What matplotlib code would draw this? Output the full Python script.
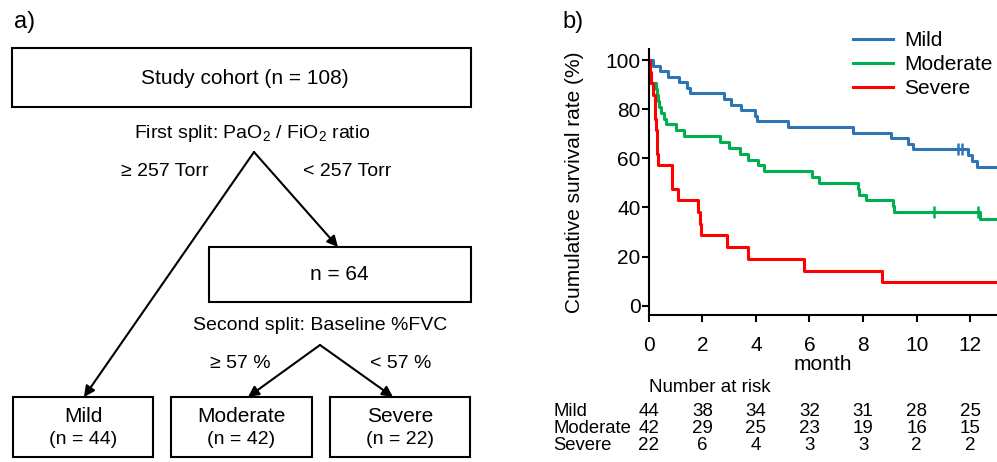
import numpy as np
import matplotlib.pyplot as plt
from matplotlib.patches import Rectangle
from matplotlib.transforms import blended_transform_factory

plt.rcParams['font.family'] = ['Liberation Sans', 'DejaVu Sans']

# Kaplan-Meier curves (month, survival %)
mild_t = [0, 0.17, 0.42, 0.73, 1.14, 1.41, 1.53, 2.81, 3.06, 3.43, 3.95, 4.05,
          5.19, 7.63, 9.03, 9.69, 9.85, 11.93, 12.05, 12.24, 13.0]
mild_s = [100, 97.7, 95.5, 93.2, 90.9, 88.6, 86.4, 84.1, 81.8, 79.5, 77.3, 75.0,
          72.7, 70.5, 68.2, 65.9, 63.6, 61.3, 58.8, 56.3, 56.3]
mild_cens_t = [11.55, 11.7]
mild_cens_s = [63.6, 63.6]

mod_t = [0, 0.01, 0.02, 0.03, 0.05, 0.26, 0.3, 0.34, 0.38, 0.45, 0.57, 0.65,
         1.0, 1.32, 2.66, 3.01, 3.41, 3.72, 4.09, 4.31, 6.08, 6.37, 7.8, 7.84,
         8.11, 9.12, 9.15, 12.36, 13.0]
mod_s = [100, 97.6, 95.2, 92.9, 90.5, 88.1, 85.7, 83.3, 81.0, 78.6, 76.2, 73.8,
         71.4, 69.0, 66.7, 64.3, 61.9, 59.5, 57.1, 54.8, 52.4, 50.0, 47.6, 45.2,
         42.9, 40.5, 38.1, 35.3, 35.3]
mod_cens_t = [10.65, 12.3]
mod_cens_s = [38.1, 38.1]

sev_t = [0, 0.05, 0.1, 0.16, 0.22, 0.25, 0.28, 0.3, 0.31, 0.33, 0.85, 0.88,
         1.08, 1.85, 1.9, 1.94, 2.93, 3.72, 5.8, 8.69, 13.0]
sev_s = [100, 95.2, 90.5, 85.7, 81.0, 76.2, 71.4, 66.7, 61.9, 57.1, 52.4, 47.6,
         42.9, 38.1, 33.3, 28.6, 23.8, 19.0, 14.3, 9.5, 9.5]

groups = ['Mild', 'Moderate', 'Severe']
colors = ['#2E75B6', '#00B050', '#FF0000']
risk_months = [0, 2, 4, 6, 8, 10, 12]
risk_mild = [44, 38, 34, 32, 31, 28, 25]
risk_mod = [42, 29, 25, 23, 19, 16, 15]
risk_sev = [22, 6, 4, 3, 3, 2, 2]

fig = plt.figure(figsize=(9.97, 4.62), dpi=100)

# pixel-coordinate canvas for the flowchart and free text
ax0 = fig.add_axes([0, 0, 1, 1])
ax0.set_xlim(0, 997)
ax0.set_ylim(462, 0)
ax0.axis('off')

def box(x0, y0, x1, y1):
    ax0.add_patch(Rectangle((x0, y0), x1 - x0, y1 - y0, fill=False, lw=1.5, ec='black'))

def arrow(x0, y0, x1, y1):
    ax0.annotate('', xy=(x1, y1), xytext=(x0, y0),
                 arrowprops=dict(arrowstyle='-|>', lw=1.5, color='black',
                                 mutation_scale=16, shrinkA=0, shrinkB=0))

ax0.text(14, 22, 'a)', fontsize=17, ha='left', va='center')
ax0.text(562, 22, 'b)', fontsize=17, ha='left', va='center')

box(12, 48, 471, 107)
ax0.text(245, 78, 'Study cohort (n = 108)', fontsize=15, ha='center', va='center')
ax0.text(252, 133, r'First split: PaO$_\mathregular{2}$ / FiO$_\mathregular{2}$ ratio',
         fontsize=14, ha='center', va='center')
ax0.text(165, 172, '≥ 257 Torr', fontsize=14, ha='center', va='center')
ax0.text(347, 172, '< 257 Torr', fontsize=14, ha='center', va='center')
arrow(254, 152, 84, 397)
arrow(254, 152, 338, 247)

box(209, 247, 471, 302)
ax0.text(339, 275, 'n = 64', fontsize=15, ha='center', va='center')
ax0.text(320, 326, 'Second split: Baseline %FVC', fontsize=14, ha='center', va='center')
ax0.text(240, 364, '≥ 57 %', fontsize=14, ha='center', va='center')
ax0.text(401, 364, '< 57 %', fontsize=14, ha='center', va='center')
arrow(320, 345, 248, 397)
arrow(320, 345, 393, 397)

leaf_x = [(13, 153), (171, 312), (330, 470)]
leaf_n = [44, 42, 22]
for (xa, xb), name, n in zip(leaf_x, groups, leaf_n):
    box(xa, 397, xb, 457)
    ax0.text((xa + xb) / 2, 417, name, fontsize=15, ha='center', va='center')
    ax0.text((xa + xb) / 2, 440, f'(n = {n})', fontsize=14, ha='center', va='center')

# survival curves
ax1 = fig.add_axes([0.6507, 0.3188, 0.3493, 0.5752])
ax1.step(mild_t, mild_s, where='post', color=colors[0], lw=2.2, label=groups[0])
ax1.step(mod_t, mod_s, where='post', color=colors[1], lw=2.2, label=groups[1])
ax1.step(sev_t, sev_s, where='post', color=colors[2], lw=2.2, label=groups[2])
ax1.plot(mild_cens_t, mild_cens_s, ls='none', marker='|', ms=8, mew=1.8, color=colors[0])
ax1.plot(mod_cens_t, mod_cens_s, ls='none', marker='|', ms=8, mew=1.8, color=colors[1])

ax1.set_xlim(0, 13)
ax1.set_ylim(-3.66, 104.5)
ax1.set_xticks(risk_months)
ax1.set_yticks([0, 20, 40, 60, 80, 100])
ax1.spines['top'].set_visible(False)
ax1.spines['right'].set_visible(False)
ax1.spines['left'].set_linewidth(1.5)
ax1.spines['bottom'].set_linewidth(1.5)
ax1.tick_params(axis='both', direction='out', length=5, width=1.5, labelsize=15)
ax1.tick_params(axis='x', pad=10)
ax1.tick_params(axis='y', pad=1)
ax1.set_xlabel('month', fontsize=15, labelpad=0.5)
ax1.set_ylabel('Cumulative survival rate (%)', fontsize=15, labelpad=15)
ax1.patch.set_alpha(0)

ax1.legend(loc='upper left', bbox_to_anchor=(853, 31), bbox_transform=ax0.transData,
           frameon=False, fontsize=15, handlelength=1.92, handletextpad=0.55,
           labelspacing=0.24, borderpad=0, borderaxespad=0)

# number at risk table
tr = blended_transform_factory(ax1.transData, ax0.transData)
ax1.text(0, 388, 'Number at risk', fontsize=13.5, ha='left', va='center', transform=tr)
for yrow, name, vals in zip([411.7, 428.3, 445], groups, [risk_mild, risk_mod, risk_sev]):
    ax0.text(553, yrow, name, fontsize=13.3, ha='left', va='center')
    for m, v in zip(risk_months, vals):
        ax1.text(m, yrow, str(v), fontsize=13.5, ha='center', va='center',
                 transform=tr, clip_on=False)

fig.savefig('out.png', dpi=100)
